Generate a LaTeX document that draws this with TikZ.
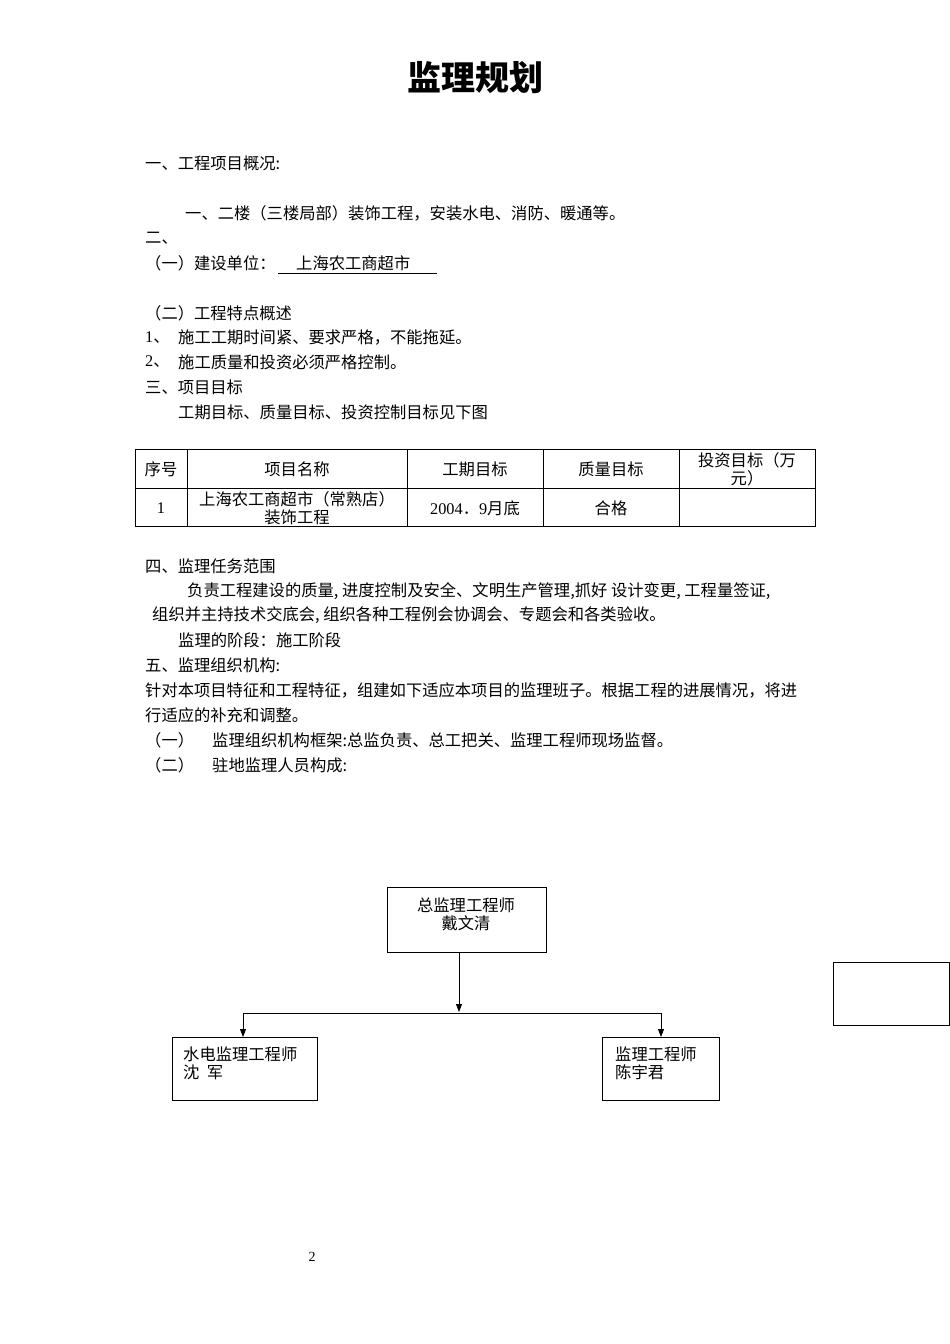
\documentclass[tikz,border=0pt]{standalone}
\usepackage{fontspec}
\setmainfont{Noto Sans CJK SC}
\setsansfont{Liberation Serif}
\newfontfamily\latn{Liberation Serif}
\usetikzlibrary{arrows.meta}
\begin{document}
\begin{tikzpicture}[x=1pt,y=-1pt,
  txt/.style={anchor=west,inner sep=0pt,font=\fontsize{16.3}{18}\selectfont},
  ctxt/.style={inner sep=0pt,align=center,font=\fontsize{16.3}{18}\selectfont},
  bx/.style={draw,line width=0.8pt},
  arr/.style={-{Triangle[length=8pt,width=6pt]},line width=0.8pt}]
\useasboundingbox[fill=white] (0,0) rectangle (950,1344);
\node[inner sep=0pt,font=\fontsize{34}{38}\selectfont\bfseries] (title) at (475,78) {监理规划};
\node[txt] (l1) at (145,163) {一、工程项目概况:};
\node[txt] (l2) at (185,213) {一、二楼（三楼局部）装饰工程，安装水电、消防、暖通等。};
\node[txt] (l3) at (145,238) {二、};
\node[txt] (l4) at (145,263) {（一）建设单位：};
\node[txt] (l4b) at (296,263) {上海农工商超市};
\draw[line width=0.6pt] (278,273) -- (437,273);
\node[txt] (l5) at (145,313) {（二）工程特点概述};
\node[txt] (l6a) at (145,338) {{\latn 1}、};
\node[txt] (l6) at (178,338) {施工工期时间紧、要求严格，不能拖延。};
\node[txt] (l7a) at (145,362) {{\latn 2}、};
\node[txt] (l7) at (178,362) {施工质量和投资必须严格控制。};
\node[txt] (l8) at (145,387) {三、项目目标};
\node[txt] (l9) at (178,412) {工期目标、质量目标、投资控制目标见下图};
% table
\draw[line width=0.8pt] (135,449) rectangle (815,526);
\draw[line width=0.8pt] (135,488) -- (815,488);
\foreach \x in {187,407,543,679} \draw[line width=0.8pt] (\x,449) -- (\x,526);
\node[ctxt] (h1) at (161,469) {序号};
\node[ctxt] (h2) at (297,469) {项目名称};
\node[ctxt] (h3) at (475,469) {工期目标};
\node[ctxt] (h4) at (611,469) {质量目标};
\node[ctxt] (h5) at (747,469) {投资目标（万\\元）};
\node[ctxt] (c1) at (161,508) {\latn 1};
\node[ctxt] (c2) at (297,508) {上海农工商超市（常熟店）\\装饰工程};
\node[ctxt] (c3) at (475,508) {{\latn 2004}．{\latn 9}月底};
\node[ctxt] (c4) at (611,508) {合格};
\node[txt] (m1) at (145,566) {四、监理任务范围};
\node[txt] (m2) at (187,591) {负责工程建设的质量, 进度控制及安全、文明生产管理,抓好 设计变更, 工程量签证,};
\node[txt] (m3) at (152,615) {组织并主持技术交底会, 组织各种工程例会协调会、专题会和各类验收。};
\node[txt] (m4) at (178,640) {监理的阶段：施工阶段};
\node[txt] (m5) at (145,665) {五、监理组织机构:};
\node[txt] (m6) at (145,690) {针对本项目特征和工程特征，组建如下适应本项目的监理班子。根据工程的进展情况，将进};
\node[txt] (m7) at (145,715) {行适应的补充和调整。};
\node[txt] (m8a) at (145,740) {（一）};
\node[txt] (m8) at (212,740) {监理组织机构框架:总监负责、总工把关、监理工程师现场监督。};
\node[txt] (m9a) at (145,765) {（二）};
\node[txt] (m9) at (212,765) {驻地监理人员构成:};
% org chart
\draw[bx] (387,887) rectangle (546,952);
\node[ctxt] (top) at (466,914) {总监理工程师\\戴文清};
\draw[bx] (172,1037) rectangle (317,1100);
\node[txt,align=left] (lft) at (183,1063) {水电监理工程师\\沈\ \ 军};
\draw[bx] (602,1037) rectangle (719,1100);
\node[txt,align=left] (rgt) at (615,1063) {监理工程师\\陈宇君};
\draw[bx] (833,962) rectangle (949,1025);
\coordinate (ts) at (459,952);
\coordinate (tj) at (459,1012);
\coordinate (lj) at (243,1013);
\coordinate (rj) at (661,1013);
\coordinate (le) at (243,1037);
\coordinate (re) at (661,1037);
\draw[arr] (ts) -- (tj);
\draw[line width=0.8pt] (lj) -- (rj);
\draw[arr] (lj) -- (le);
\draw[arr] (rj) -- (re);
\node[inner sep=0pt,font=\latn\fontsize{14}{16}\selectfont] (pg) at (312,1257) {2};
\end{tikzpicture}
\end{document}
